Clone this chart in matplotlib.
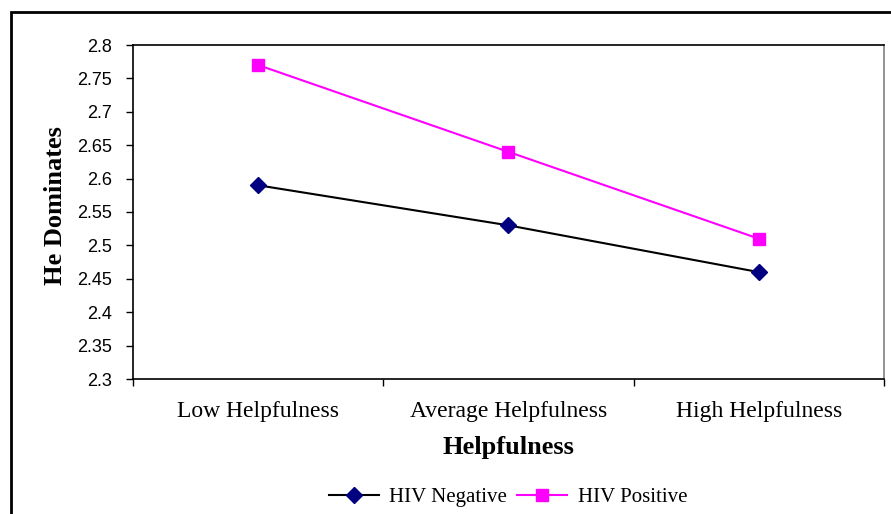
import numpy as np
import matplotlib.pyplot as plt
from matplotlib.patches import Rectangle

categories = ["Low Helpfulness", "Average Helpfulness", "High Helpfulness"]
hiv_negative = [2.59, 2.53, 2.46]
hiv_positive = [2.77, 2.64, 2.51]
y_ticks = [2.3, 2.35, 2.4, 2.45, 2.5, 2.55, 2.6, 2.65, 2.7, 2.75, 2.8]

fig = plt.figure(figsize=(8.91, 5.14), dpi=100)
ax = fig.add_axes([133 / 891, 1 - 379 / 514, (884 - 133) / 891, (379 - 45) / 514])

# outer chart frame (runs off the right and bottom edges)
fig.patches.append(Rectangle((11 / 891, -0.05), 1.0, 1 - 12 / 514 + 0.05,
                             transform=fig.transFigure, fill=False,
                             edgecolor="black", linewidth=2))

x = np.arange(len(categories))
ax.plot(x, hiv_negative, color="black", linewidth=1.5, marker="D",
        markersize=8, markerfacecolor="#000080", markeredgecolor="#000080",
        label="HIV Negative")
ax.plot(x, hiv_positive, color="#FF00FF", linewidth=1.5, marker="s",
        markersize=8, markerfacecolor="#FF00FF", markeredgecolor="#FF00FF",
        label="HIV Positive")

ax.set_xlim(-0.5, len(categories) - 0.5)
ax.set_ylim(2.3, 2.8)
ax.set_yticks(y_ticks)
ax.set_yticklabels([f"{v:g}" for v in y_ticks], fontfamily="Liberation Sans", fontsize=13)
ax.tick_params(axis="y", pad=10)

ax.set_xticks(np.arange(-0.5, len(categories), 1.0))
ax.set_xticklabels([])
ax.set_xticks(x, minor=True)
ax.set_xticklabels(categories, minor=True, fontfamily="Liberation Serif", fontsize=17)
ax.tick_params(axis="x", which="minor", length=0, pad=16)
ax.tick_params(axis="both", which="major", length=5, width=1, direction="out")

for s in ax.spines.values():
    s.set_linewidth(1.2)
ax.spines["right"].set_color("#808080")

ax.set_xlabel("Helpfulness", fontfamily="Liberation Serif", fontweight="bold",
              fontsize=19, labelpad=10)
ax.set_ylabel("He Dominates", fontfamily="Liberation Serif", fontweight="bold",
              fontsize=19)
ax.yaxis.set_label_coords(-0.088, 0.52)

fig.legend(loc="center", bbox_to_anchor=(508 / 891, 1 - 497 / 514), ncol=2,
           frameon=False, prop={"family": "Liberation Serif", "size": 15},
           handlelength=2.4, columnspacing=0.5, handletextpad=0.5)

fig.savefig("out.png", dpi=100)
